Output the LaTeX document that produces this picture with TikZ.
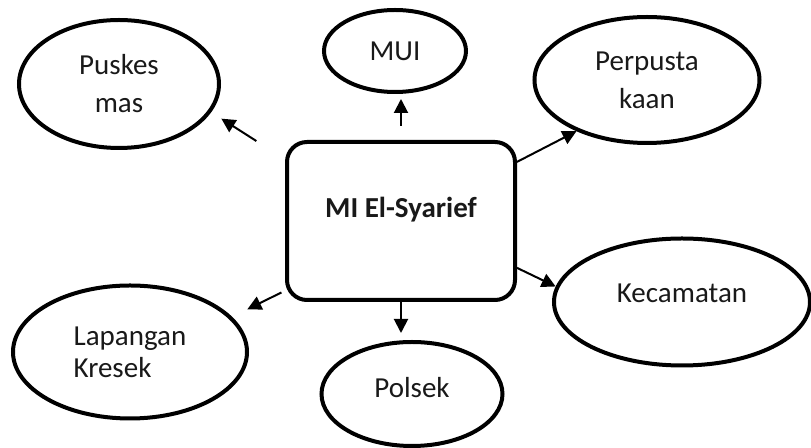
\documentclass[tikz,border=0pt]{standalone}
\usepackage{fontspec}
\setmainfont{Carlito}
\usetikzlibrary{arrows.meta,shapes.geometric}
\begin{document}
\begin{tikzpicture}[x=0.5pt,y=-0.5pt,
      place/.style={
        % The shape:
        ellipse,inner sep=0pt,
        % The rest
        line width=2pt,draw=black,text=black!90,
        font=\fontsize{14.5}{19}\selectfont,align=center},
      hub/.style={
        % The shape:
        rectangle,minimum width=114pt,minimum height=79pt,rounded corners=10pt,
        % The rest
        line width=2pt,draw=black,text=black!90,
        font=\fontsize{14.5}{17}\selectfont\bfseries},
      link/.style={line width=1pt,-{Triangle[length=7pt,width=7pt]}}]
    \useasboundingbox (0,0) rectangle (811,448);
    \node(mi)[hub, text depth=14pt] at (401,221) {MI El-Syarief};
    \node(puskesmas)[place, minimum width=100pt, minimum height=64pt] at (119,84) {Puskes\\mas};
    \path (mi.152) edge[link, shorten <=17pt, shorten >=6pt] (puskesmas.343);
    \node(mui)[place, minimum width=71pt, minimum height=41pt] at (395,51) {MUI};
    \path (mi.north) edge[link, shorten <=7pt, shorten >=2.5pt] (mi.north |- mui.south);
    \node(perpustakaan)[place, minimum width=112.5pt, minimum height=63pt] at (647,80) {Perpusta\\kaan};
    \path (mi.27) edge[link] (perpustakaan.216);
    \node(kecamatan)[place, minimum width=128pt, minimum height=63.5pt, text depth=9pt] at (682,302) {Kecamatan};
    \path (mi.-22) edge[link] (kecamatan.173);
    \node(polsek)[place, minimum width=90.5pt, minimum height=52pt, text depth=7pt] at (412,394) {Polsek};
    \path (mi.south) edge[link, shorten >=3.5pt] (mi.south |- polsek.north);
    \node(lapangan)[place, minimum width=117pt, minimum height=66.5pt, align=left,
      font=\fontsize{14.5}{16}\selectfont] at (130,352) {Lapangan\\Kresek};
    \path (mi.211) edge[link, shorten <=2pt, shorten >=8.5pt] (lapangan.19);

  \end{tikzpicture}
\end{document}
